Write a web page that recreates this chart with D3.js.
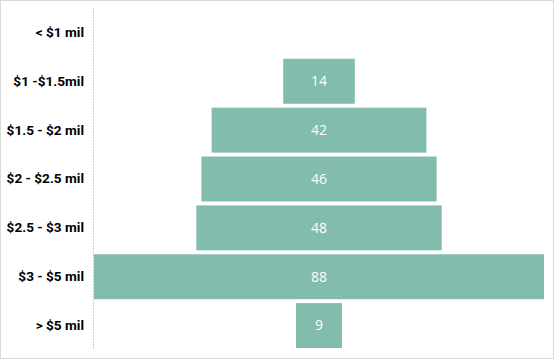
<!DOCTYPE html>
<html lang="en">
<head>
<meta charset="UTF-8">
<title>Funnel</title>
<script src="https://cdnjs.cloudflare.com/ajax/libs/d3/7.8.4/d3.min.js"></script>
<style>
  body { margin: 0; background: #fff; }
</style>
</head>
<body>
<div id="chart"></div>
<script>
const categories = ["< $1 mil", "$1 -$1.5mil", "$1.5 - $2 mil", "$2 - $2.5 mil", "$2.5 - $3 mil", "$3 - $5 mil", "> $5 mil"];
const counts = [0, 14, 42, 46, 48, 88, 9];

const w = 555, h = 361;
const plotLeft = 94, plotRight = 544, plotTop = 8, plotBottom = 350;
const center = (plotLeft + plotRight) / 2;

const svg = d3.select("#chart").append("svg")
  .attr("width", w).attr("height", h);

// outer border
svg.append("rect")
  .attr("x", 0.5).attr("y", 0.5)
  .attr("width", 553).attr("height", 358)
  .attr("fill", "none").attr("stroke", "#d9d9d9");

const yScale = d3.scaleBand()
  .domain(categories)
  .range([plotTop, plotBottom])
  .paddingInner(0.08).paddingOuter(0.04);

const wScale = d3.scaleLinear()
  .domain([0, d3.max(counts)])
  .range([0, plotRight - plotLeft]);

// vertical axis line
svg.append("line")
  .attr("x1", 93.5).attr("x2", 93.5)
  .attr("y1", plotTop).attr("y2", plotBottom)
  .attr("stroke", "#d0d0d0")
  .attr("stroke-dasharray", "2,1");

const yAxis = d3.axisLeft(yScale).tickSize(0).tickPadding(9);
const gy = svg.append("g")
  .attr("transform", "translate(" + 93 + ",0)")
  .call(yAxis);
gy.select(".domain").remove();
gy.selectAll("text")
  .attr("fill", "#000")
  .style("font-family", "Roboto, 'Liberation Sans', sans-serif")
  .style("font-weight", "bold")
  .style("font-size", "13.6px");

const rows = categories.map((c, i) => ({ cat: c, v: counts[i] }));

svg.selectAll("rect.bar")
  .data(rows.filter(d => d.v > 0))
  .enter()
  .append("rect")
  .attr("class", "bar")
  .attr("x", d => center - wScale(d.v) / 2)
  .attr("y", d => yScale(d.cat))
  .attr("width", d => wScale(d.v))
  .attr("height", yScale.bandwidth())
  .attr("fill", "#82bcad");

svg.selectAll("text.val")
  .data(rows.filter(d => d.v > 0))
  .enter()
  .append("text")
  .attr("class", "val")
  .attr("x", center)
  .attr("y", d => yScale(d.cat) + yScale.bandwidth() / 2)
  .attr("dy", "0.35em")
  .attr("text-anchor", "middle")
  .attr("fill", "#fff")
  .style("font-family", "'Open Sans', 'Noto Sans', sans-serif")
  .style("font-size", "14px")
  .text(d => d.v);
</script>
</body>
</html>
